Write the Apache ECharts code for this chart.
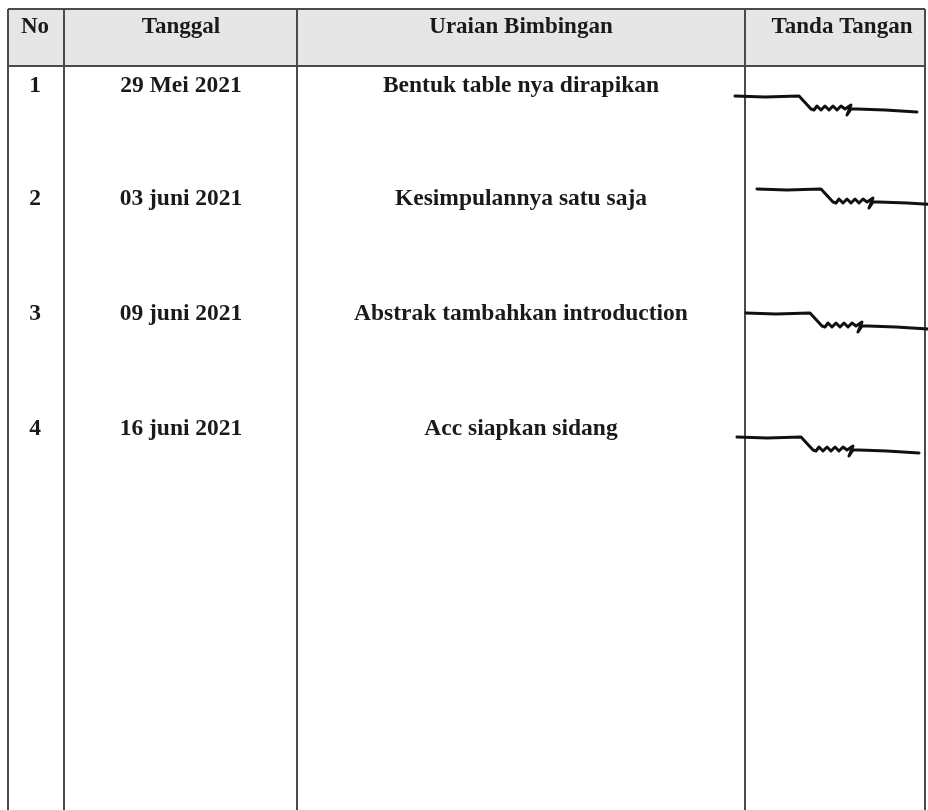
<!DOCTYPE html>
<html>
<head>
<meta charset="utf-8">
<script src="https://cdn.jsdelivr.net/npm/echarts@6/dist/echarts.min.js"></script>
<style>html,body{margin:0;padding:0;background:#fff}#c{width:928px;height:810px}</style>
</head>
<body>
<div id="c"></div>
<script>
// ---- data ----
var headers = ['No', 'Tanggal', 'Uraian Bimbingan', 'Tanda Tangan'];
var nos = ['1', '2', '3', '4'];
var dates = ['29 Mei 2021', '03 juni 2021', '09 juni 2021', '16 juni 2021'];
var notes = ['Bentuk table nya dirapikan', 'Kesimpulannya satu saja', 'Abstrak tambahkan introduction', 'Acc siapkan sidang'];
var signed = [true, true, true, true];

// ---- layout (table geometry in page units) ----
var colEdges = [8, 64, 297, 745, 925];
var headerCenters = [35, 181, 521, 842];
var rowCenters = [35, 181, 521];
var headerTop = 9, headerBottom = 66, tableBottom = 812;
var rowTextY = [85, 198, 313, 428];
var sigStart = [[735, 96], [757, 189], [746, 313], [737, 437]];
// signature stroke shape relative to its start point
var sigShape = [[0,0],[30,1],[64,0],[76,13],[79,14],[82,10],[86,14],[90,10],[94,14],[98,10],[102,14],[106,10],[110,13],[113,11],[116,9],[114,14],[112,19],[116,13],[122,13],[150,14],[182,16]];

var font = '"Liberation Serif", "Times New Roman", serif';
var lineColor = '#4a4a4a';
var textColor = '#1a1a1a';

function tableRender(params, api) {
  var children = [];
  var tl = api.coord([colEdges[0], headerTop]);
  var br = api.coord([colEdges[colEdges.length - 1], headerBottom]);
  children.push({type: 'rect', shape: {x: tl[0], y: tl[1], width: br[0] - tl[0], height: br[1] - tl[1]}, style: {fill: '#e6e6e6'}});
  [headerTop, headerBottom].forEach(function (y) {
    var a = api.coord([colEdges[0], y]), b = api.coord([colEdges[colEdges.length - 1], y]);
    children.push({type: 'line', shape: {x1: a[0], y1: a[1], x2: b[0], y2: b[1]}, style: {stroke: lineColor, lineWidth: 2}});
  });
  colEdges.forEach(function (x) {
    var a = api.coord([x, headerTop]), b = api.coord([x, tableBottom]);
    children.push({type: 'line', shape: {x1: a[0], y1: a[1], x2: b[0], y2: b[1]}, style: {stroke: lineColor, lineWidth: 2}});
  });
  headers.forEach(function (h, i) {
    var p = api.coord([headerCenters[i], 27]);
    children.push({type: 'text', style: {text: h, x: p[0], y: p[1], align: 'center', verticalAlign: 'middle', font: 'bold 23px ' + font, fill: textColor}});
  });
  for (var r = 0; r < nos.length; r++) {
    var vals = [nos[r], dates[r], notes[r]];
    for (var c = 0; c < vals.length; c++) {
      var q = api.coord([rowCenters[c], rowTextY[r]]);
      children.push({type: 'text', style: {text: vals[c], x: q[0], y: q[1] + 1, align: 'center', verticalAlign: 'middle', font: 'bold 23.5px ' + font, fill: textColor}});
    }
  }
  return {type: 'group', children: children};
}

var series = [{
  type: 'custom', renderItem: tableRender, data: [[0, 0]], silent: true, clip: false
}];
signed.forEach(function (s, i) {
  if (!s) return;
  series.push({
    type: 'line', symbol: 'none', silent: true, smooth: false,
    lineStyle: {color: '#111', width: 3, join: 'round', cap: 'round'},
    data: sigShape.map(function (p) { return [sigStart[i][0] + p[0], sigStart[i][1] + p[1]]; })
  });
});

var chart = echarts.init(document.getElementById('c'), null, {renderer: 'canvas'});
chart.setOption({
  animation: false,
  backgroundColor: '#ffffff',
  grid: {left: 0, right: 0, top: 0, bottom: 0},
  xAxis: {type: 'value', min: 0, max: 928, show: false},
  yAxis: {type: 'value', min: 0, max: 810, inverse: true, show: false},
  series: series
});
</script>
</body>
</html>
